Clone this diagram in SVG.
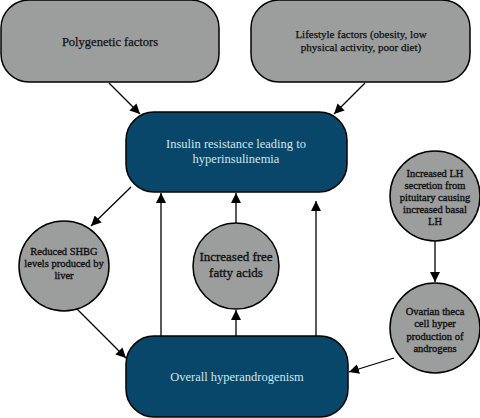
<svg xmlns="http://www.w3.org/2000/svg" width="480" height="418" viewBox="0 0 480 418">
<defs>
<marker id="ah" viewBox="0 0 10 10" refX="10" refY="5" markerWidth="10" markerHeight="10" markerUnits="userSpaceOnUse" orient="auto">
<path d="M0,0 L10,5 L0,10 z" fill="#000"/>
</marker>
<style>
.g{fill:#9c9e9e;stroke:#000;stroke-width:1.5}
.b{fill:#08466a;stroke:#000;stroke-width:1.5}
text{font-family:'Liberation Serif','DejaVu Serif','Times New Roman',serif;text-anchor:middle}
.tg{fill:#111;stroke:#111;stroke-width:0.35}
.tn{fill:#111;stroke:#111;stroke-width:0.25}
.tb{fill:#cde6f0;font-size:12.5px}
.c{stroke:#000;stroke-width:1.3;fill:none;marker-end:url(#ah)}
</style>
</defs>
<rect width="480" height="418" fill="#fff"/>
<g id="polygenetic">
<rect class="g" x="1" y="0" width="218" height="82" rx="28"/>
<text class="tn" x="110" y="46" font-size="12.5">Polygenetic factors</text>
</g>
<g id="lifestyle">
<rect class="g" x="251" y="0" width="219" height="82" rx="28"/>
<text class="tn" x="361" y="38" font-size="11">Lifestyle factors (obesity, low</text>
<text class="tn" x="361" y="51" font-size="11">physical activity, poor diet)</text>
</g>
<g id="insulin">
<rect class="b" x="126" y="112" width="221" height="80" rx="28"/>
<text class="tb" x="236" y="148">Insulin resistance leading to</text>
<text class="tb" x="236" y="163">hyperinsulinemia</text>
</g>
<g id="overall">
<rect class="b" x="126" y="336" width="222" height="81" rx="28"/>
<text class="tb" x="237" y="381">Overall hyperandrogenism</text>
</g>
<g id="shbg">
<circle class="g" cx="64" cy="266" r="45"/>
<text class="tg" x="64" y="255" font-size="10.5">Reduced SHBG</text>
<text class="tg" x="64" y="267" font-size="10.5">levels produced by</text>
<text class="tg" x="64" y="279" font-size="10.5">liver</text>
</g>
<g id="ffa">
<circle class="g" cx="236" cy="266" r="43"/>
<text class="tg" x="236" y="261" font-size="13">Increased free</text>
<text class="tg" x="236" y="277" font-size="13">fatty acids</text>
</g>
<g id="lh">
<circle class="g" cx="435" cy="196" r="45"/>
<text class="tg" x="435" y="177" font-size="10.5">Increased LH</text>
<text class="tg" x="435" y="189" font-size="10.5">secretion from</text>
<text class="tg" x="435" y="201" font-size="10.5">pituitary causing</text>
<text class="tg" x="435" y="213" font-size="10.5">increased basal</text>
<text class="tg" x="435" y="225" font-size="10.5">LH</text>
</g>
<g id="ovarian">
<circle class="g" cx="435" cy="328" r="45"/>
<text class="tg" x="435" y="315" font-size="10.5">Ovarian theca</text>
<text class="tg" x="435" y="327" font-size="10.5">cell hyper</text>
<text class="tg" x="435" y="340" font-size="10.5">production of</text>
<text class="tg" x="435" y="352" font-size="10.5">androgens</text>
</g>
<g id="connectors">
<line class="c" x1="109" y1="83" x2="140" y2="114"/>
<line class="c" x1="365" y1="83" x2="334" y2="114"/>
<line class="c" x1="131" y1="187" x2="91" y2="226"/>
<line class="c" x1="77" y1="309" x2="126" y2="358"/>
<line class="c" x1="161" y1="336" x2="161" y2="193"/>
<line class="c" x1="236" y1="223" x2="236" y2="193"/>
<line class="c" x1="236" y1="336" x2="236" y2="310"/>
<line class="c" x1="316" y1="336" x2="316" y2="201"/>
<line class="c" x1="435" y1="241" x2="435" y2="282"/>
<line class="c" x1="394" y1="358" x2="349" y2="372"/>
</g>
</svg>
